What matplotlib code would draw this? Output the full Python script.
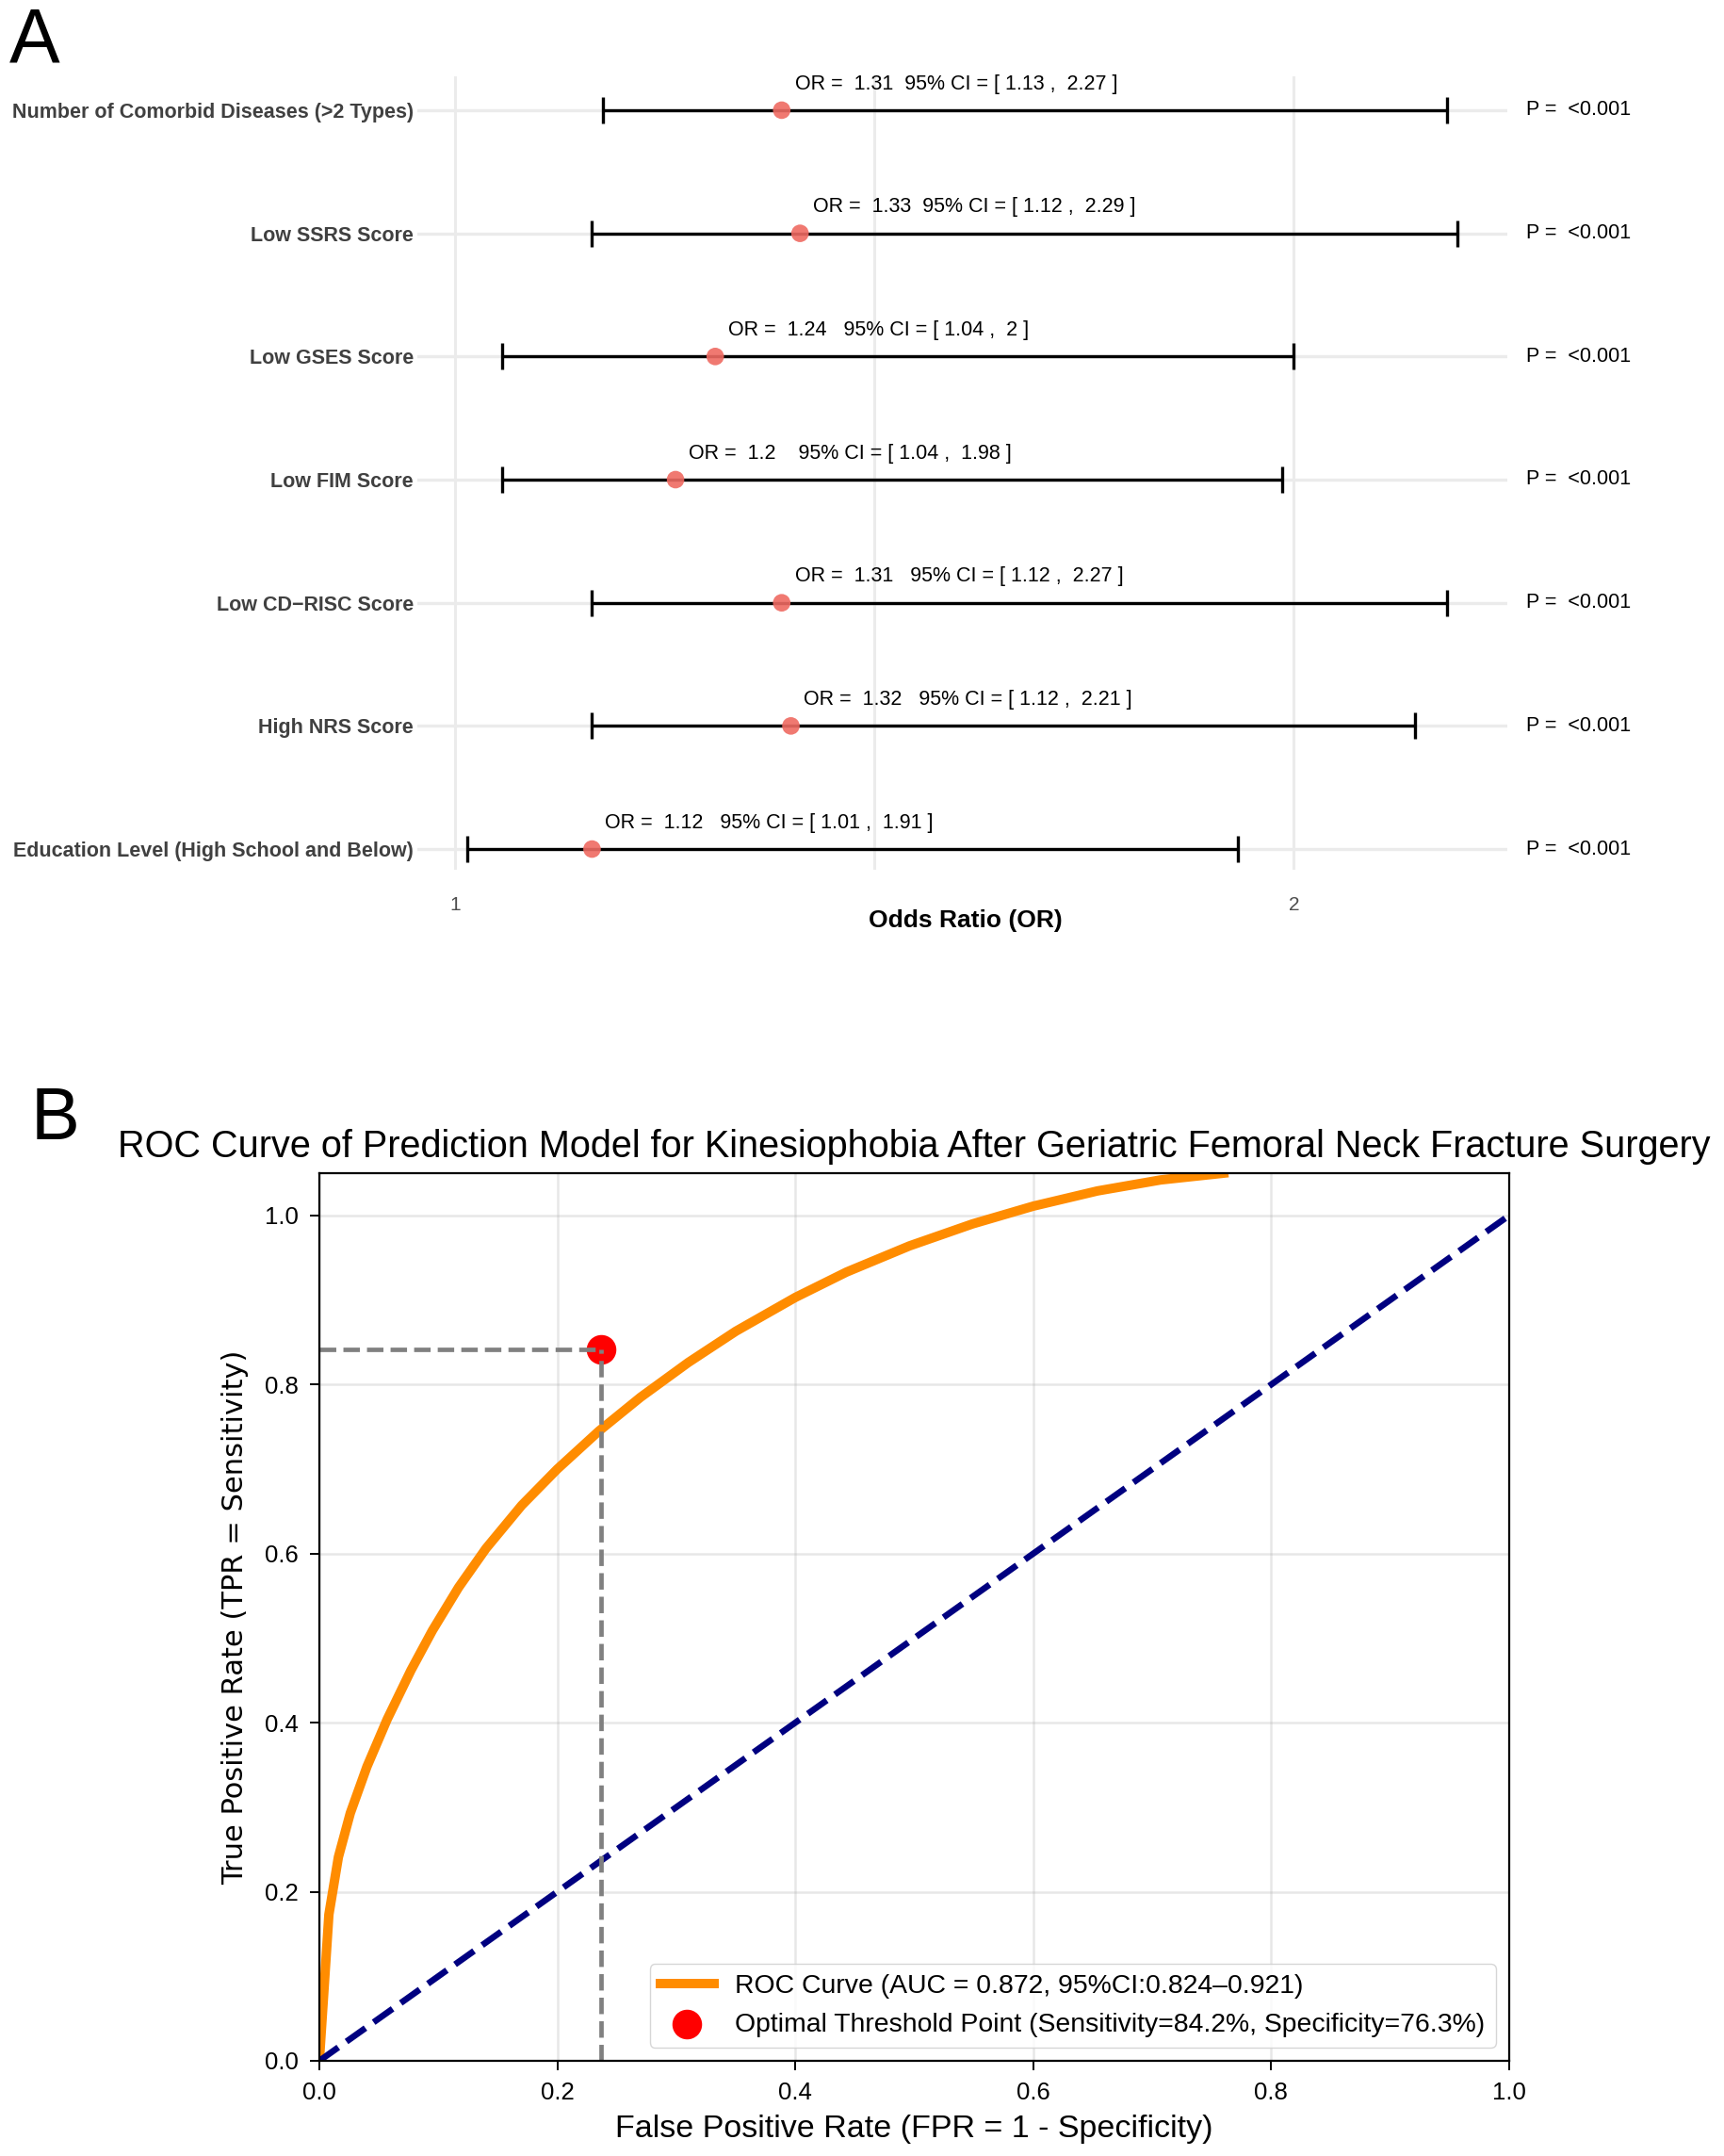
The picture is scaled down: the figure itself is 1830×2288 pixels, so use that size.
import numpy as np
import matplotlib
matplotlib.use("Agg")
import matplotlib.pyplot as plt
import matplotlib.transforms as mtransforms

plt.rcParams['font.family'] = ['Liberation Sans', 'DejaVu Sans']

# ---------------- data: panel A (forest plot) ----------------
factors = ["Number of Comorbid Diseases (>2 Types)", "Low SSRS Score", "Low GSES Score",
           "Low FIM Score", "Low CD\u2212RISC Score", "High NRS Score",
           "Education Level (High School and Below)"]
or_vals = [1.31, 1.33, 1.24, 1.2, 1.31, 1.32, 1.12]
ci_low = [1.13, 1.12, 1.04, 1.04, 1.12, 1.12, 1.01]
ci_high = [2.27, 2.29, 2.0, 1.98, 2.27, 2.21, 1.91]
p_text = ["<0.001"] * 7
gap_spaces = [2, 2, 3, 4, 3, 3, 3]

# ---------------- data: panel B (ROC) ----------------
roc_fpr = [0.0, 0.008, 0.016, 0.026, 0.040, 0.057, 0.077, 0.095, 0.117, 0.140, 0.170,
           0.200, 0.235, 0.270, 0.310, 0.350, 0.400, 0.443, 0.496, 0.549, 0.600,
           0.654, 0.707, 0.760]
roc_tpr = [0.0, 0.173, 0.241, 0.293, 0.348, 0.404, 0.462, 0.509, 0.560, 0.606, 0.657,
           0.700, 0.745, 0.785, 0.826, 0.863, 0.903, 0.933, 0.964, 0.990, 1.011,
           1.029, 1.042, 1.050]
auc_text = "0.872"
auc_ci_text = "0.824\u20130.921"
opt_sens = 0.842
opt_spec = 0.763

W, H = 1831, 2288
fig = plt.figure(figsize=(W / 100, H / 100), dpi=100)


def fx(px):
    return px / W


def fy(py):
    return 1 - py / H


# ================= Panel A =================
axA = fig.add_axes([fx(443), fy(923), (1600 - 443) / W, (923 - 81) / H])
n = len(factors)
ypos = np.arange(n, 0, -1)
axA.set_xscale('log')
lo_l, hi_l = np.log(min(ci_low)), np.log(max(ci_high))
ex = 0.05 * (hi_l - lo_l)
axA.set_xlim(np.exp(lo_l - ex), np.exp(hi_l + ex))
axA.set_ylim(0.832, n + 0.275)

for s in axA.spines.values():
    s.set_visible(False)

axA.set_xticks([1, 2])
axA.set_xticklabels(["1", "2"], fontsize=15, color='#4D4D4D')
axA.set_xticks([np.sqrt(2)], minor=True)
axA.xaxis.set_minor_formatter(matplotlib.ticker.NullFormatter())
axA.tick_params(axis='x', which='both', length=0, pad=20)
axA.set_yticks(ypos)
axA.set_yticklabels(factors, fontsize=15.5, fontweight='bold', color='#404040')
axA.tick_params(axis='y', length=0, pad=3)
axA.grid(True, which='both', axis='x', color='#EBEBEB', lw=2.2)
axA.grid(True, axis='y', color='#EBEBEB', lw=2.4)
axA.set_axisbelow(True)

or_arr = np.array(or_vals)
axA.errorbar(or_arr, ypos, xerr=[or_arr - np.array(ci_low), np.array(ci_high) - or_arr],
             fmt='none', ecolor='black', elinewidth=2.4, capsize=10, capthick=2.4, zorder=3)
axA.scatter(or_arr, ypos, s=180, color='#EF6A62', alpha=0.9, zorder=4, edgecolors='none')

for i in range(n):
    lbl = "OR =  {:g}{}95% CI = [ {:g} ,  {:g} ]".format(or_vals[i], " " * gap_spaces[i],
                                                          ci_low[i], ci_high[i])
    axA.annotate(lbl, (or_vals[i], ypos[i]), xytext=(10, 20), textcoords='offset points',
                 ha='left', va='center', fontsize=15.5, color='black')

trP = mtransforms.blended_transform_factory(fig.transFigure, axA.transData)
for i in range(n):
    axA.text(fx(1620), ypos[i], "P =  " + p_text[i], transform=trP, ha='left', va='center',
             fontsize=15.5, color='black', clip_on=False)

fig.text(fx(1025), fy(977), "Odds Ratio (OR)", ha='center', va='center', fontsize=19,
         fontweight='bold', color='black')

fig.text(fx(10), fy(66), "A", fontsize=58, ha='left', va='baseline')
fig.text(fx(33), fy(1209), "B", fontsize=56, ha='left', va='baseline')

# ================= Panel B =================
axB = fig.add_axes([fx(339), fy(2187), (1602 - 339) / W, (2187 - 1245) / H])
axB.plot(roc_fpr, roc_tpr, color='darkorange', lw=7.2,
         label="ROC Curve (AUC = {}, 95%CI:{})".format(auc_text, auc_ci_text))
axB.plot([0, 1], [0, 1], color='navy', lw=4.8, linestyle='--')
fpr_opt = 1 - opt_spec
axB.scatter([fpr_opt], [opt_sens], s=470, color='red',
            label="Optimal Threshold Point (Sensitivity={:.1f}%, Specificity={:.1f}%)".format(
                opt_sens * 100, opt_spec * 100))
axB.plot([fpr_opt, fpr_opt], [0, opt_sens], color='gray', lw=3.4, linestyle='--')
axB.plot([0, fpr_opt], [opt_sens, opt_sens], color='gray', lw=3.4, linestyle='--')

axB.set_xlim(0, 1)
axB.set_ylim(0, 1.05)
ticks = np.arange(0, 1.01, 0.2)
axB.set_xticks(ticks)
axB.set_yticks(ticks)
axB.set_xticklabels(["{:.1f}".format(v) for v in ticks])
axB.set_yticklabels(["{:.1f}".format(v) for v in ticks])
axB.tick_params(labelsize=18.5, length=7, width=1.4, pad=9)
for s in axB.spines.values():
    s.set_linewidth(1.6)
axB.grid(True, alpha=0.3, lw=1.8)
axB.set_xlabel("False Positive Rate (FPR = 1 - Specificity)", fontsize=24.5, labelpad=8)
axB.set_ylabel("True Positive Rate (TPR = Sensitivity)", fontsize=22,
               family='DejaVu Sans', labelpad=12)
axB.set_title("ROC Curve of Prediction Model for Kinesiophobia After Geriatric Femoral Neck "
              "Fracture Surgery", fontsize=28.5, pad=12)
axB.legend(loc='lower right', fontsize=20.4, scatterpoints=1)

fig.savefig("out.png", dpi=100)
